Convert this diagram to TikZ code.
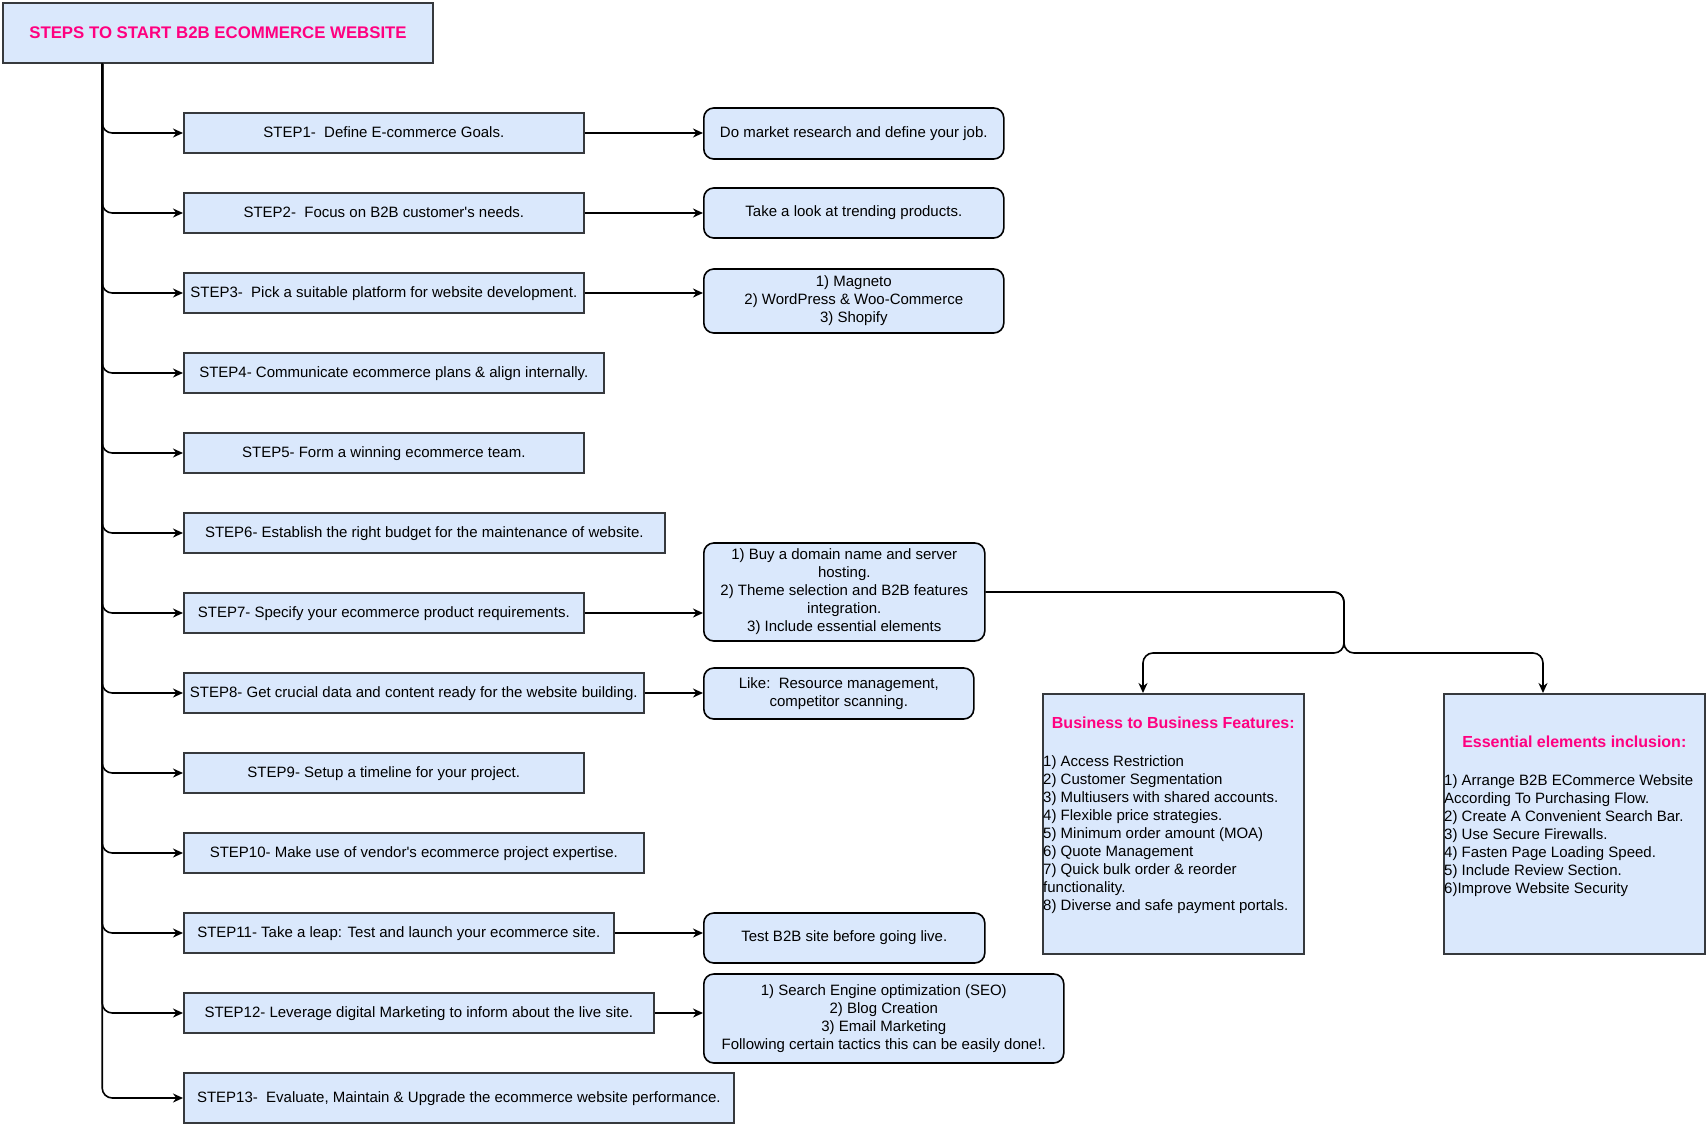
\documentclass[tikz,border=0pt]{standalone}
\usepackage{fontspec}
\setmainfont{Liberation Sans}
\usepackage{tikz}
\usetikzlibrary{arrows.meta}
\definecolor{boxblue}{HTML}{DAE8FC}
\definecolor{edgegrey}{HTML}{36393D}
\definecolor{hotpink}{HTML}{FF0080}
\tikzset{
  stepbox/.style={draw=edgegrey, fill=boxblue, line width=1.6pt, anchor=west, minimum height=40pt, inner sep=0pt, text height=12.5pt, text depth=3pt, font=\fontsize{15}{18}\selectfont},
  notebox/.style={draw=black, fill=boxblue, line width=1.6pt, rounded corners=10pt, anchor=west, align=center, inner sep=0pt, font=\fontsize{15}{18}\selectfont},
  featbox/.style={draw=edgegrey, fill=boxblue, line width=1.6pt, minimum width=261pt, minimum height=260pt, anchor=north west, inner sep=0pt},
  feattitle/.style={text=hotpink, inner sep=0pt, font=\fontsize{16}{19}\selectfont\bfseries},
  listtext/.style={align=left, inner sep=0pt, anchor=north west, font=\fontsize{15}{18}\selectfont},
  arr/.style={line width=1.6pt, -{Stealth[length=10pt,width=9pt]}, rounded corners=10pt},
}

\begin{document}
\begin{tikzpicture}[x=1pt, y=-1pt]
    \useasboundingbox (0,0) rectangle (1706,1126);

    % Title and the trunk line
    \node[draw=edgegrey, fill=boxblue, line width=1.6pt, minimum width=430pt, minimum height=60pt, text=hotpink, font=\fontsize{16.8}{20}\selectfont\bfseries] (title) at (218,33) {STEPS TO START B2B ECOMMERCE WEBSITE};
    \coordinate (trunk) at ([xshift=100pt]title.south west);

    % The steps
    \node[stepbox, minimum width=400pt] (s1) at (183,133) {STEP1-\ \ Define E-commerce Goals.};
    \node[stepbox, minimum width=400pt] (s2) at (183,213) {STEP2-\ \ Focus on B2B customer\textquotesingle s needs.};
    \node[stepbox, minimum width=400pt] (s3) at (183,293) {STEP3-\ \ Pick a suitable platform for website development.};
    \node[stepbox, minimum width=420pt] (s4) at (183,373) {STEP4- Communicate ecommerce plans \& align internally.};
    \node[stepbox, minimum width=400pt] (s5) at (183,453) {STEP5- Form a winning ecommerce team.};
    \node[stepbox, minimum width=481pt] (s6) at (183,533) {STEP6- Establish the right budget for the maintenance of website.};
    \node[stepbox, minimum width=400pt] (s7) at (183,613) {STEP7- Specify your ecommerce product requirements.};
    \node[stepbox, minimum width=460pt] (s8) at (183,693) {STEP8- Get crucial data and content ready for the website building.};
    \node[stepbox, minimum width=400pt] (s9) at (183,773) {STEP9- Setup a timeline for your project.};
    \node[stepbox, minimum width=460pt] (s10) at (183,853) {STEP10- Make use of vendor\textquotesingle s ecommerce project expertise.};
    \node[stepbox, minimum width=430pt] (s11) at (183,933) {STEP11- Take a leap: Test and launch your ecommerce site.};
    \node[stepbox, minimum width=470pt] (s12) at (183,1013) {STEP12- Leverage digital Marketing to inform about the live site.};
    \node[stepbox, minimum width=550pt, minimum height=50pt] (s13) at (183,1098) {STEP13-\ \ Evaluate, Maintain \& Upgrade the ecommerce website performance.};

    \foreach \n in {1,...,13}
      \draw[arr] (trunk) |- (s\n.west);

    % Notes on the right of some steps
    \node[notebox, minimum width=300pt, minimum height=51pt] (r1) at (703,133.5) {Do market research and define your job.};
    \node[notebox, minimum width=300pt, minimum height=50pt] (r2) at (703,213) {Take a look at trending products.};
    \node[notebox, minimum width=300pt, minimum height=64pt] (r3) at (703,301) {1) Magneto\\2) WordPress \& Woo-Commerce\\3) Shopify};
    \node[notebox, minimum width=281pt, minimum height=98pt] (r7) at (703,592) {1) Buy a domain name and server\\hosting.\\2) Theme selection and B2B features\\integration.\\3) Include essential elements};
    \node[notebox, minimum width=270pt, minimum height=51pt] (r8) at (703,693.5) {Like:\ \ Resource management,\\competitor scanning.};
    \node[notebox, minimum width=281pt, minimum height=50pt] (r11) at (703,938) {Test B2B site before going live.};
    \node[notebox, minimum width=360pt, minimum height=89pt] (r12) at (703,1018.5) {1) Search Engine optimization (SEO)\\2) Blog Creation\\3) Email Marketing\\Following certain tactics this can be easily done!.};

    \foreach \n in {1,2,3,7,8,11,12}
      \draw[arr] (s\n.east) -- (s\n.east -| r\n.west);

    % The two feature boxes under step 7
    \node[featbox] (bf) at (1042,693) {};
    \node[featbox] (ee) at (1443,693) {};
    \node[feattitle] (bftitle) at ([yshift=-30pt]bf.north) {Business to Business Features:};
    \node[feattitle] (eetitle) at ([yshift=-49pt]ee.north) {Essential elements inclusion:};
    \node[listtext] (bflist) at ([xshift=1pt,yshift=-62pt]bf.north west) {1) Access Restriction\\2) Customer Segmentation\\3) Multiusers with shared accounts.\\4) Flexible price strategies.\\5) Minimum order amount (MOA)\\6) Quote Management\\7) Quick bulk order \& reorder\\functionality.\\8) Diverse and safe payment portals.};
    \node[listtext] (eelist) at ([xshift=1pt,yshift=-81pt]ee.north west) {1) Arrange B2B ECommerce Website\\According To Purchasing Flow.\\2) Create A Convenient Search Bar.\\3) Use Secure Firewalls.\\4) Fasten Page Loading Speed.\\5) Include Review Section.\\6)Improve Website Security};

    \coordinate (split) at (1344,653);
    \coordinate (bfin) at ([xshift=101pt]bf.north west);
    \coordinate (eein) at ([xshift=100pt]ee.north west);
    \draw[arr] (r7.east) -| (split) -| (bfin);
    \draw[arr] (r7.east) -| (split) -| (eein);
\end{tikzpicture}
\end{document}
